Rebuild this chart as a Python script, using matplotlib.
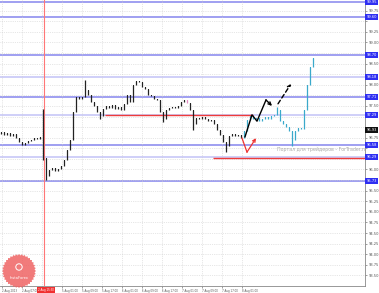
import matplotlib
matplotlib.use("Agg")
import matplotlib.pyplot as plt
import numpy as np
from matplotlib.patches import Polygon, Circle
from matplotlib.transforms import Affine2D, blended_transform_factory

# hourly closes: history (black) and what followed (cyan)
hist_close = [96.88, 96.81, 96.86, 96.79, 96.84, 96.74, 96.65, 96.58, 96.63, 96.67,
              96.70, 96.74, 96.72, 96.77, 96.27, 95.85, 95.99, 96.04, 95.96, 96.01,
              96.08, 96.22, 96.46, 96.70, 97.36, 97.71, 97.66, 97.71, 97.88, 97.76,
              97.59, 97.50, 97.36, 97.26, 97.43, 97.50, 97.45, 97.52, 97.43, 97.47,
              97.40, 97.55, 97.76, 97.59, 97.99, 98.09, 98.06, 97.95, 97.90, 97.76,
              97.73, 97.66, 97.64, 97.36, 97.19, 97.40, 97.45, 97.47, 97.45, 97.50,
              97.59, 97.64, 97.57, 97.40, 97.07, 97.22, 97.19, 97.24, 97.19, 97.14,
              97.17, 97.07, 96.93, 96.81, 96.65, 96.55, 96.79, 96.84, 96.79, 96.81,
              96.74]
next_close = [96.91, 97.17, 97.26, 97.19, 97.22, 97.14, 97.19, 97.24, 97.19, 97.26,
              97.29, 97.40, 97.14, 97.07, 97.00, 96.91, 96.70, 96.91, 96.98, 96.96,
              97.40, 97.99, 98.42, 98.63]
first_open = 96.84
wick_hi = {14: 97.43, 28: 98.11, 92: 97.47}
wick_lo = {14: 96.22, 15: 95.75, 33: 97.19, 54: 97.12, 64: 96.93, 75: 96.41, 97: 96.55}
pink_bars = [62]

blue_levels = [99.95, 99.60, 98.70, 97.71, 96.58, 95.73]
pale_levels = [98.18, 97.29, 96.29]
red_levels = [(97.29, 34.5, 83.8), (96.27, 70.5, 121.2)]
last_price = 96.93
news_bar = 14.17

# analyst arrows
fc_x = [81.17, 83.5, 85.17, 88.17, 90.17]
fc_y = [96.77, 97.29, 97.14, 97.64, 97.50]
fc2_x = [92.17, 96.5]
fc2_y = [97.55, 98.02]
alt_x = [80.17, 81.83, 84.83]
alt_y = [96.74, 96.41, 96.74]

time_labels = ["2 Aug 2013", "2 Aug 07:00", "", "5 Aug 01:00", "5 Aug 09:00",
               "5 Aug 17:00", "6 Aug 01:00", "6 Aug 09:00", "6 Aug 17:00",
               "7 Aug 01:00", "7 Aug 09:00", "7 Aug 17:00", "8 Aug 01:00"]
news_label = "2 Aug 15:30"

fig = plt.figure(figsize=(3.79, 2.93), dpi=100)
ax = fig.add_axes([0, 7 / 293, 365 / 379, 286 / 293])
ax.set_xlim(-0.5, 121.17)
ax.set_ylim(93.25, 100.0)

# grid
xt = (np.arange(13) * 20 + 0.2) / 3
ax.set_xticks(xt)
ax.set_xticklabels(time_labels)
for lab in ax.get_xticklabels():
    lab.set_ha("left")
yt = np.arange(93.5, 99.8, 0.25)
levels = blue_levels + pale_levels + [last_price]
ylabs = []
for p in yt:
    if min(abs(p - l) for l in levels) < 0.14:
        ylabs.append("")
    else:
        ylabs.append("%.2f" % p)
ax.yaxis.tick_right()
ax.set_yticks(yt)
ax.set_yticklabels(ylabs)
ax.grid(True, linestyle=":", color="#cfcfcf", linewidth=0.5)
ax.tick_params(axis="y", labelsize=2.6, length=1.5, width=0.4, pad=1, colors="#555555")
ax.tick_params(axis="x", labelsize=1.9, length=1.5, width=0.4, pad=1, colors="#555555")
for s in ["top", "left"]:
    ax.spines[s].set_visible(False)
for s in ["right", "bottom"]:
    ax.spines[s].set_color("#888888")
    ax.spines[s].set_linewidth(0.6)

# level lines
for p in blue_levels:
    ax.axhline(p, color="#8585ee", lw=1.1, zorder=1)
for p in pale_levels:
    ax.axhline(p, color="#c2c2f6", lw=1.1, zorder=1)
for p, a, b in red_levels:
    ax.hlines(p, a, b, color="#ee3b3b", lw=1.0, zorder=2)
ax.axvline(news_bar, color="#ff7777", lw=0.8, zorder=2)

# candles
closes = hist_close + next_close
opens = [first_open] + closes[:-1]
for i, (o, c) in enumerate(zip(opens, closes)):
    col = "#222222" if i < len(hist_close) else "#3aa9cb"
    if i in pink_bars:
        col = "#e58ac4"
    hi = wick_hi.get(i, max(o, c))
    lo = wick_lo.get(i, min(o, c))
    ax.vlines(i, lo, hi, color=col, lw=0.9, zorder=3)
    ax.bar(i, max(abs(c - o), 0.02), bottom=min(o, c), width=0.5, color=col, zorder=3)

# arrows
ax.plot(fc_x[:-1], fc_y[:-1], color="black", lw=1.0, zorder=4)
ax.annotate("", xy=(fc_x[-1], fc_y[-1]), xytext=(fc_x[-2], fc_y[-2]),
            arrowprops=dict(arrowstyle="->", color="black", lw=1.0, shrinkA=0, shrinkB=0,
                            mutation_scale=5), zorder=4)
ax.annotate("", xy=(fc2_x[1], fc2_y[1]), xytext=(fc2_x[0], fc2_y[0]),
            arrowprops=dict(arrowstyle="->", color="black", lw=1.0, linestyle=(0, (3, 2)),
                            shrinkA=0, shrinkB=0, mutation_scale=5), zorder=4)
ax.plot(alt_x[:-1], alt_y[:-1], color="#ee3333", lw=0.9, zorder=4)
ax.annotate("", xy=(alt_x[-1], alt_y[-1]), xytext=(alt_x[-2], alt_y[-2]),
            arrowprops=dict(arrowstyle="->", color="#ee3333", lw=0.9, shrinkA=0, shrinkB=0,
                            mutation_scale=5), zorder=4)

ax.text(91.8, 96.48, "Портал для трейдеров - ForTrader.ru", fontsize=3.4,
        color="#aaaaaa", va="center", ha="left", clip_on=True, zorder=2)

# price boxes on the right axis
tr = blended_transform_factory(ax.transAxes, ax.transData)
for p in blue_levels + pale_levels:
    ax.text(1.004, p, "%.2f" % p, transform=tr, fontsize=2.6, color="white",
            ha="left", va="center", clip_on=False,
            bbox=dict(boxstyle="square,pad=0.3", fc="#2f2ff2", ec="none"))
ax.text(1.004, last_price, "%.2f" % last_price, transform=tr, fontsize=2.6, color="white",
        ha="left", va="center", clip_on=False,
        bbox=dict(boxstyle="square,pad=0.3", fc="#111111", ec="none"))

# highlighted time box under the news line
trx = blended_transform_factory(ax.transData, ax.transAxes)
ax.text(news_bar + 0.6, -0.006, news_label, transform=trx, fontsize=1.9, color="white",
        ha="center", va="top", clip_on=False, zorder=6,
        bbox=dict(boxstyle="square,pad=0.3", fc="#f03030", ec="none"))

# InstaForex badge
ang = np.linspace(0, 2 * np.pi, 73)[:-1]
rad = np.where(np.arange(72) % 2 == 0, 17.0, 15.6)
pts = np.column_stack([rad * np.cos(ang), rad * np.sin(ang)])
badge = Affine2D().translate(19, 22)
fig.patches.append(Polygon(pts, closed=True, fc="#ef6464", ec="none", alpha=0.85,
                           transform=badge, figure=fig))
fig.patches.append(Circle((0, 4), 3.2, fc="none", ec="white", lw=0.7,
                          transform=badge, figure=fig))
fig.text(19 / 379, 15 / 293, "InstaForex", fontsize=2.6, color="white",
         ha="center", va="center")

fig.savefig("out.png", dpi=100)
